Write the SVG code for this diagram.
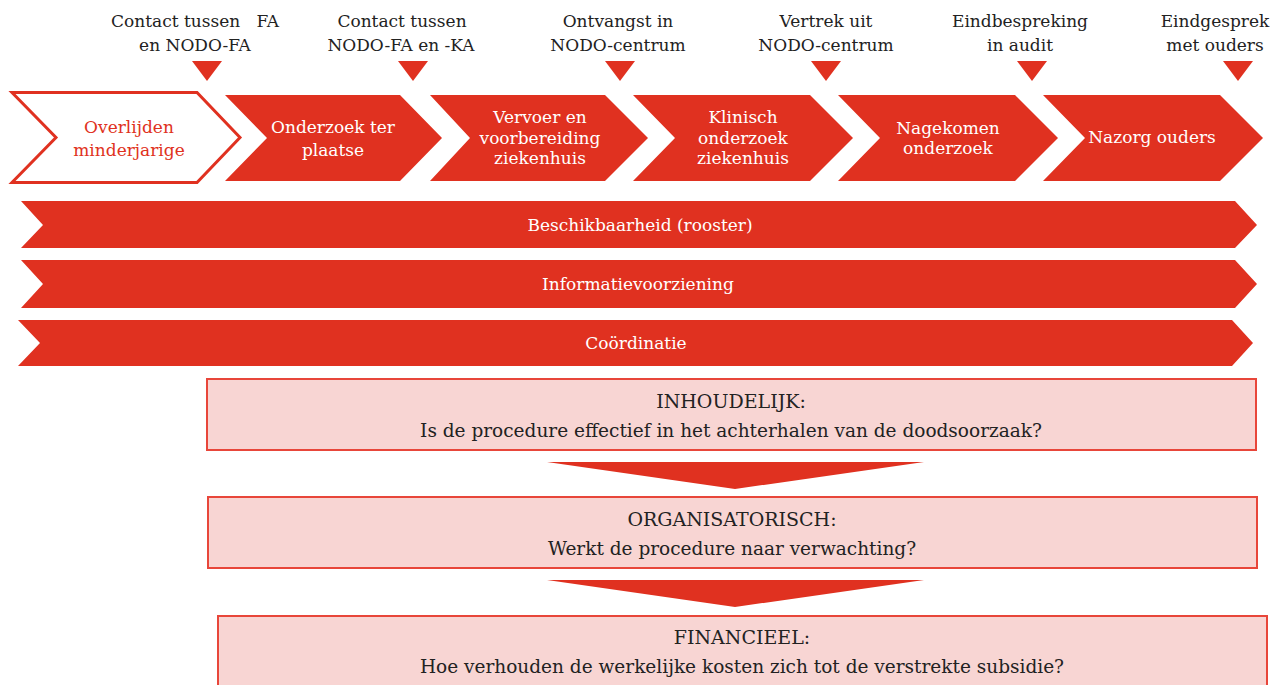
<svg xmlns="http://www.w3.org/2000/svg" width="1274" height="685" viewBox="0 0 1274 685">
<style>
text{font-family:"DejaVu Serif","Liberation Serif",serif;text-anchor:middle;}
.lbl{font-size:17px;fill:#222;}
.wt{font-size:17px;fill:#fff;}
.rt{font-size:17px;fill:#e03120;}
.red{fill:#e03120;}
.box{fill:#f8d5d3;stroke:#e8463a;stroke-width:2;}
.bt{font-size:18.5px;fill:#222;}
.bh{font-size:19px;fill:#222;}
</style>
<rect width="1274" height="685" fill="#fff"/>
<g id="milestones">
<g id="m1"><text class="lbl" x="195" y="27" xml:space="preserve">Contact tussen   FA</text><text class="lbl" x="195" y="51">en NODO-FA</text><polygon class="red" points="192,61 222,61 207,81"/></g>
<g id="m2"><text class="lbl" x="402" y="27">Contact tussen</text><text class="lbl" x="401" y="51">NODO-FA en -KA</text><polygon class="red" points="398,61 428,61 413,81"/></g>
<g id="m3"><text class="lbl" x="618" y="27">Ontvangst in</text><text class="lbl" x="618" y="51">NODO-centrum</text><polygon class="red" points="605,61 635,61 620,81"/></g>
<g id="m4"><text class="lbl" x="826" y="27">Vertrek uit</text><text class="lbl" x="826" y="51">NODO-centrum</text><polygon class="red" points="811,61 841,61 826,81"/></g>
<g id="m5"><text class="lbl" x="1020" y="27">Eindbespreking</text><text class="lbl" x="1020" y="51">in audit</text><polygon class="red" points="1017,61 1047,61 1032,81"/></g>
<g id="m6"><text class="lbl" x="1215" y="27">Eindgesprek</text><text class="lbl" x="1215" y="51">met ouders</text><polygon class="red" points="1223,61 1253,61 1238,81"/></g>
</g>
<g id="c1"><path d="M12,92.5 L197,92.5 L240,137.5 L197,182.5 L12,182.5 L56,137.5 Z" fill="#fff" stroke="#e03120" stroke-width="3"/><text class="rt" x="129" y="133">Overlijden</text><text class="rt" x="129" y="156">minderjarige</text></g>
<g id="c2"><path class="red" d="M225,95 L400,95 L442,138 L400,181 L225,181 L267,138 Z"/><text class="wt" x="333" y="133">Onderzoek ter</text><text class="wt" x="333" y="156">plaatse</text></g>
<g id="c3"><path class="red" d="M430,95 L605,95 L648,138 L605,181 L430,181 L470,138 Z"/><text class="wt" x="540" y="123">Vervoer en</text><text class="wt" x="540" y="144">voorbereiding</text><text class="wt" x="540" y="164">ziekenhuis</text></g>
<g id="c4"><path class="red" d="M633,95 L810,95 L853,138 L810,181 L633,181 L675,138 Z"/><text class="wt" x="743" y="123">Klinisch</text><text class="wt" x="743" y="144">onderzoek</text><text class="wt" x="743" y="164">ziekenhuis</text></g>
<g id="c5"><path class="red" d="M838,95 L1015,95 L1058,138 L1015,181 L838,181 L880,138 Z"/><text class="wt" x="948" y="134">Nagekomen</text><text class="wt" x="948" y="154">onderzoek</text></g>
<g id="c6"><path class="red" d="M1043,95 L1220,95 L1263,138 L1220,181 L1043,181 L1085,138 Z"/><text class="wt" x="1152" y="143">Nazorg ouders</text></g>
<g id="b1"><path class="red" d="M21,201 L1235,201 L1257,225 L1235,248 L21,248 L43,225 Z"/><text class="wt" x="640" y="231">Beschikbaarheid (rooster)</text></g>
<g id="b2"><path class="red" d="M21,260 L1235,260 L1257,284 L1235,308 L21,308 L43,284 Z"/><text class="wt" x="638" y="290">Informatievoorziening</text></g>
<g id="b3"><path class="red" d="M18,320 L1232,320 L1253,343 L1232,366 L18,366 L40,343 Z"/><text class="wt" x="636" y="349">Coördinatie</text></g>
<g id="q1"><rect class="box" x="207" y="379" width="1049" height="71"/><text class="bh" x="731" y="408">INHOUDELIJK:</text><text class="bt" x="731" y="437">Is de procedure effectief in het achterhalen van de doodsoorzaak?</text></g>
<g id="q2"><rect class="box" x="208" y="497" width="1049" height="71"/><text class="bh" x="732" y="526">ORGANISATORISCH:</text><text class="bt" x="732" y="555">Werkt de procedure naar verwachting?</text></g>
<g id="q3"><rect class="box" x="218" y="616" width="1049" height="80"/><text class="bh" x="742" y="644">FINANCIEEL:</text><text class="bt" x="742" y="673">Hoe verhouden de werkelijke kosten zich tot de verstrekte subsidie?</text></g>
<g id="connectors">
<polygon class="red" points="547,462 924,462 735,489"/>
<polygon class="red" points="547,580 924,580 735,607"/>
</g>
</svg>
